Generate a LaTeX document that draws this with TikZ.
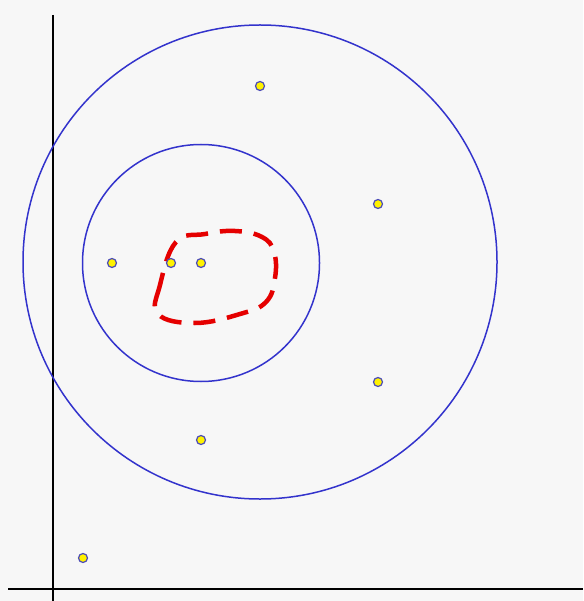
\documentclass[tikz,border=0pt]{standalone}
\begin{document}
\begin{tikzpicture}[x=1pt,y=-1pt,
  circ/.style={draw=blue!75!black!80, line width=1.5pt},
  axis/.style={draw=black, line width=1.8pt},
  pt/.style={circle, draw=blue!60!black!70, fill=yellow, line width=1.2pt, minimum size=9pt, inner sep=0pt},
  region/.style={draw=red!90!black, line width=4.5pt, dash pattern=on 22pt off 12pt}]
\fill[black!3] (0,0) rectangle (583,601);
\useasboundingbox (0,0) rectangle (583,601);
\coordinate (ytop) at (53,15);
\coordinate (ybot) at (53,601);
\coordinate (xl) at (8,589);
\coordinate (xr) at (583,589);
\draw[axis] (ytop) -- (ybot);
\draw[axis] (xl) -- (xr);
\node[circ, circle, minimum size=474pt, inner sep=0pt] (big) at (260,262) {};
\node[circ, circle, minimum size=237pt, inner sep=0pt] (small) at (201,263) {};
\draw[region] plot[smooth cycle, tension=0.7] coordinates {(176,242) (160,285) (158,314) (195,323) (240,314) (266,302) (275,278) (274,252) (262,237) (235,231) (205,234)};
\node[pt] (p1) at (260,86) {};
\node[pt] (p2) at (378,204) {};
\node[pt] (p3) at (112,263) {};
\node[pt] (p4) at (171,263) {};
\node[pt] (p5) at (201,263) {};
\node[pt] (p6) at (378,382) {};
\node[pt] (p7) at (201,440) {};
\node[pt] (p8) at (83,558) {};
\end{tikzpicture}
\end{document}
